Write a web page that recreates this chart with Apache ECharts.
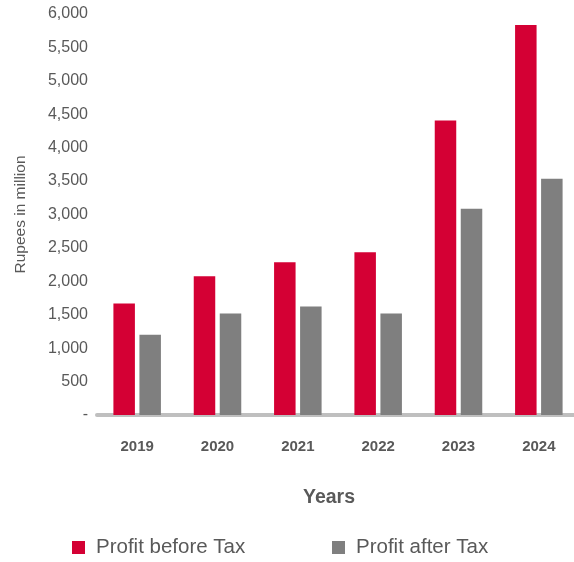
<!DOCTYPE html>
<html>
<head>
<meta charset="utf-8">
<script src="https://cdn.jsdelivr.net/npm/echarts@6/dist/echarts.min.js"></script>
<style>html,body{margin:0;padding:0;background:#fff}#c{width:574px;height:562px}</style>
</head>
<body>
<div id="c"></div>
<script>
const years = ['2019', '2020', '2021', '2022', '2023', '2024'];
const profitBeforeTax = [1670, 2075, 2285, 2435, 4405, 5835];
const profitAfterTax = [1200, 1520, 1625, 1520, 3085, 3535];
const seriesNames = ['Profit before Tax', 'Profit after Tax'];
const yTicks = { min: 0, max: 6000, interval: 500 };

const txt = '#595959';
const font = '"Liberation Sans", Arial, sans-serif';
const chart = echarts.init(document.getElementById('c'), null, { renderer: 'canvas' });
chart.setOption({
  animation: false,
  textStyle: { fontFamily: font },
  grid: { left: 97, width: 482, top: 14, bottom: 147, containLabel: false, outerBoundsMode: 'none' },
  legend: [
    { data: [seriesNames[0]], left: 72, top: 537, padding: 0, itemWidth: 13, itemHeight: 13, icon: 'rect',
      textStyle: { fontSize: 20.5, color: txt, fontFamily: font, padding: [0, 0, 0, 6] } },
    { data: [seriesNames[1]], left: 332, top: 537, padding: 0, itemWidth: 13, itemHeight: 13, icon: 'rect',
      textStyle: { fontSize: 20.5, color: txt, fontFamily: font, padding: [0, 0, 0, 6] } }
  ],
  xAxis: {
    type: 'category', data: years,
    axisLine: { lineStyle: { color: '#BFBFBF', width: 4 } },
    axisTick: { show: false },
    axisLabel: { color: txt, fontSize: 15, fontWeight: 'bold', margin: 24, fontFamily: font }
  },
  yAxis: {
    type: 'value', min: yTicks.min, max: yTicks.max, interval: yTicks.interval,
    name: 'Rupees in million', nameLocation: 'middle', nameRotate: 90, nameGap: 68,
    nameTextStyle: { color: txt, fontSize: 15.5, fontFamily: font },
    axisLine: { show: false }, axisTick: { show: false }, splitLine: { show: false },
    axisLabel: { color: txt, fontSize: 16, margin: 9, fontFamily: font,
      formatter: v => v === 0 ? '-' : v.toLocaleString('en-US') }
  },
  graphic: [{
    type: 'text', left: 303, top: 488,
    style: { text: 'Years', fill: txt, font: 'bold 19.5px ' + font }
  }],
  series: [
    { name: seriesNames[0], type: 'bar', data: profitBeforeTax, barWidth: 21.5, barGap: '21%',
      itemStyle: { color: '#D40034' } },
    { name: seriesNames[1], type: 'bar', data: profitAfterTax, barWidth: 21.5, barGap: '21%',
      itemStyle: { color: '#7F7F7F' } }
  ]
});
</script>
</body>
</html>
